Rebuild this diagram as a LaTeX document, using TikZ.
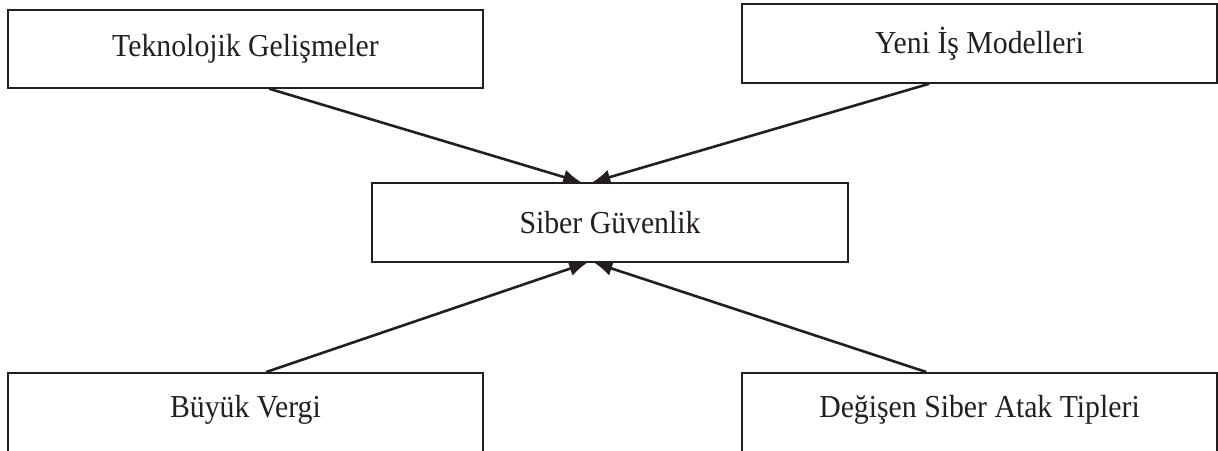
\documentclass[tikz,border=0pt]{standalone}
\usepackage{fontspec}
\setmainfont[FakeStretch=0.93]{Liberation Serif}
\usetikzlibrary{arrows.meta}
\definecolor{ink}{HTML}{231F20}
\begin{document}
\begin{tikzpicture}[x=0.5pt,y=-0.5pt,
  box/.style={draw=ink, line width=0.75pt, inner sep=0pt, rectangle, text=ink, font=\fontsize{16}{19}\selectfont},
  lbl/.style={inner sep=0pt, font=\fontsize{16}{19}\selectfont, text=ink},
  conn/.style={draw=ink, line width=1.3pt, -{Latex[length=9pt,width=7.5pt]}}]
\useasboundingbox (0,0) rectangle (1218,450);
\clip (0,0) rectangle (1218,450);
\node[box, minimum width=237.5pt, minimum height=39pt] (b1) at (245.5,49) {Teknolojik Gelişmeler};
\node[box, minimum width=237.5pt, minimum height=39.5pt] (b2) at (979.5,43.5) {Yeni İş Modelleri};
\node[box, minimum width=238pt, minimum height=39.5pt] (b3) at (610,222.5) {Siber Güvenlik};
\node[box, minimum width=237.5pt, minimum height=60pt, anchor=north] (b4) at (245.5,372) {};
\node[box, minimum width=237.5pt, minimum height=60pt, anchor=north] (b5) at (979.5,372) {};
\node[lbl, anchor=base] (t4) at (245.5,417) {Büyük Vergi};
\node[lbl, anchor=base] (t5) at (979.5,417) {Değişen Siber Atak Tipleri};
\draw[conn] ([xshift=131pt]b1.south west) -- ([xshift=105pt]b3.north west);
\draw[conn] ([xshift=94pt]b2.south west) -- ([xshift=110.5pt]b3.north west);
\draw[conn] ([xshift=129.5pt]b4.north west) -- ([xshift=108pt]b3.south west);
\draw[conn] ([xshift=92.5pt]b5.north west) -- ([xshift=111.5pt]b3.south west);
\end{tikzpicture}
\end{document}
